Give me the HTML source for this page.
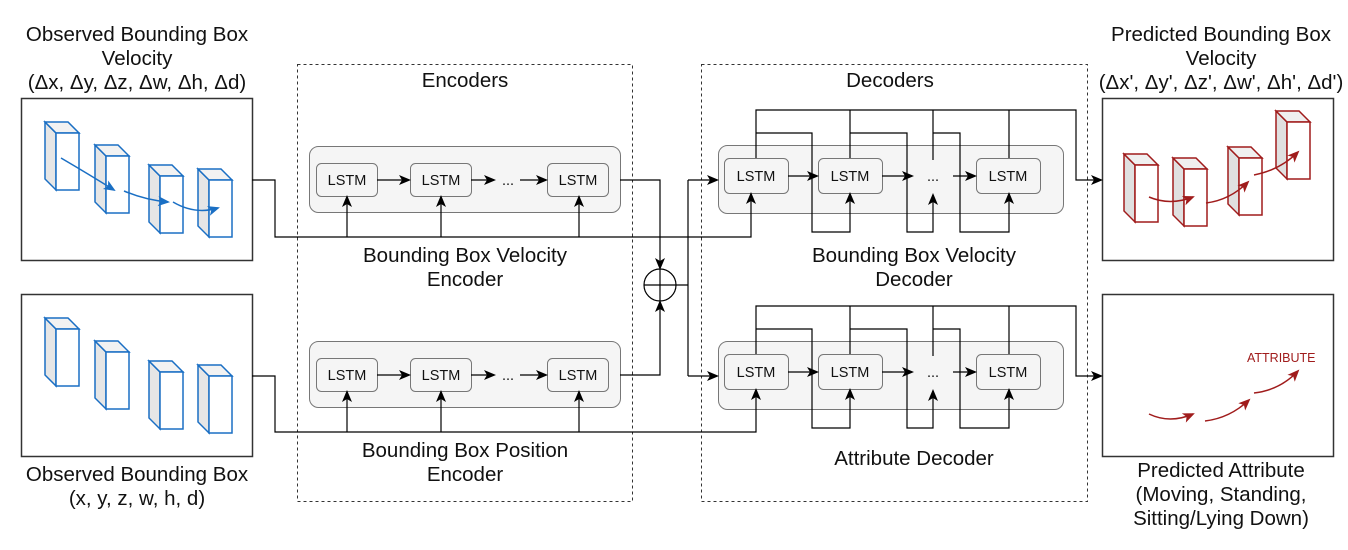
<!DOCTYPE html>
<html><head><meta charset="utf-8"><style>
html,body{margin:0;padding:0;background:#fff}
svg{display:block}
text{font-family:"Liberation Sans",Arial,sans-serif;fill:#111}
</style></head><body>
<svg width="1348" height="550" viewBox="0 0 1348 550" xmlns="http://www.w3.org/2000/svg">
<defs>
<g id="cb">
 <polygon points="-11,-11 0,0 0,57 -11,46" fill="#e6e6e6" stroke="#1a6fc4" stroke-width="1.5"/>
 <polygon points="-11,-11 12,-11 23,0 0,0" fill="#f2f2f2" stroke="#1a6fc4" stroke-width="1.5"/>
 <rect x="0" y="0" width="23" height="57" fill="#fff" stroke="#1a6fc4" stroke-width="1.5"/>
</g>
<g id="cr">
 <polygon points="-11,-11 0,0 0,57 -11,46" fill="#e0e0e0" stroke="#a01c1c" stroke-width="1.5"/>
 <polygon points="-11,-11 12,-11 23,0 0,0" fill="#f0f0f0" stroke="#a01c1c" stroke-width="1.5"/>
 <rect x="0" y="0" width="23" height="57" fill="#fff" stroke="#a01c1c" stroke-width="1.5"/>
</g>
<marker id="ab" markerWidth="12" markerHeight="12" refX="10" refY="6" orient="auto" markerUnits="userSpaceOnUse"><path d="M0,1 L12,6 L0,11 L3,6z" fill="#000"/></marker>
<marker id="bl" markerWidth="12" markerHeight="12" refX="10" refY="6" orient="auto" markerUnits="userSpaceOnUse"><path d="M0,1 L12,6 L0,11 L3,6z" fill="#1a6fc4"/></marker>
<marker id="rd" markerWidth="12" markerHeight="12" refX="10" refY="6" orient="auto" markerUnits="userSpaceOnUse"><path d="M0,1 L12,6 L0,11 L3,6z" fill="#a01c1c"/></marker>
</defs>

<rect x="297.5" y="64.5" width="335" height="437" fill="none" stroke="#333" stroke-dasharray="3,3"/>
<rect x="701.5" y="64.5" width="386" height="437" fill="none" stroke="#333" stroke-dasharray="3,3"/>

<rect x="21.5" y="98.5" width="231" height="162" fill="#fff" stroke="#333" stroke-width="1.5"/>
<rect x="21.5" y="294.5" width="231" height="162" fill="#fff" stroke="#333" stroke-width="1.5"/>
<rect x="1102.5" y="98.5" width="231" height="162" fill="#fff" stroke="#333" stroke-width="1.5"/>
<rect x="1102.5" y="294.5" width="231" height="162" fill="#fff" stroke="#333" stroke-width="1.5"/>

<use href="#cb" x="56" y="133"/><use href="#cb" x="106" y="156"/><use href="#cb" x="160" y="176"/><use href="#cb" x="209" y="180"/>
<path d="M61,158 Q90,175 114,190" fill="none" stroke="#1a6fc4" stroke-width="1.5" marker-end="url(#bl)"/>
<path d="M124,191 Q145,200 168,202" fill="none" stroke="#1a6fc4" stroke-width="1.5" marker-end="url(#bl)"/>
<path d="M173,202 Q195,215 218,208" fill="none" stroke="#1a6fc4" stroke-width="1.5" marker-end="url(#bl)"/>
<use href="#cb" x="56" y="329"/><use href="#cb" x="106" y="352"/><use href="#cb" x="160" y="372"/><use href="#cb" x="209" y="376"/>

<use href="#cr" x="1135" y="165"/><use href="#cr" x="1184" y="169"/><use href="#cr" x="1239" y="158"/><use href="#cr" x="1287" y="122"/>
<path d="M1149,197 Q1170,206 1193,197" fill="none" stroke="#a01c1c" stroke-width="1.5" marker-end="url(#rd)"/>
<path d="M1206,203 Q1230,200 1248,182" fill="none" stroke="#a01c1c" stroke-width="1.5" marker-end="url(#rd)"/>
<path d="M1254,175 Q1280,170 1298,152" fill="none" stroke="#a01c1c" stroke-width="1.5" marker-end="url(#rd)"/>
<text x="1247" y="362" font-size="12.5" style="fill:#a01c1c">ATTRIBUTE</text>
<path d="M1149,414 Q1170,424 1193,414" fill="none" stroke="#a01c1c" stroke-width="1.5" marker-end="url(#rd)"/>
<path d="M1205,421 Q1230,418 1249,400" fill="none" stroke="#a01c1c" stroke-width="1.5" marker-end="url(#rd)"/>
<path d="M1254,393 Q1280,390 1298,371" fill="none" stroke="#a01c1c" stroke-width="1.5" marker-end="url(#rd)"/>

<rect x="309.5" y="146.5" width="311" height="66" rx="9" fill="#f5f5f5" stroke="#777"/>
<rect x="309.5" y="341.5" width="311" height="66" rx="9" fill="#f5f5f5" stroke="#777"/>
<g font-size="14.5" text-anchor="middle">
<rect x="316.5" y="163.5" width="61" height="33" rx="5" fill="#f5f5f5" stroke="#777"/><text x="347" y="185">LSTM</text>
<rect x="410.5" y="163.5" width="61" height="33" rx="5" fill="#f5f5f5" stroke="#777"/><text x="441" y="185">LSTM</text>
<rect x="547.5" y="163.5" width="61" height="33" rx="5" fill="#f5f5f5" stroke="#777"/><text x="578" y="185">LSTM</text>
<text x="508" y="185">...</text>
<rect x="316.5" y="358.5" width="61" height="33" rx="5" fill="#f5f5f5" stroke="#777"/><text x="347" y="380">LSTM</text>
<rect x="410.5" y="358.5" width="61" height="33" rx="5" fill="#f5f5f5" stroke="#777"/><text x="441" y="380">LSTM</text>
<rect x="547.5" y="358.5" width="61" height="33" rx="5" fill="#f5f5f5" stroke="#777"/><text x="578" y="380">LSTM</text>
<text x="508" y="380">...</text>
</g>
<g stroke="#000" stroke-width="1.2" fill="none">
<path d="M377,180 H409" marker-end="url(#ab)"/><path d="M471,180 H494" marker-end="url(#ab)"/><path d="M520,180 H546" marker-end="url(#ab)"/>
<path d="M377,375 H409" marker-end="url(#ab)"/><path d="M471,375 H494" marker-end="url(#ab)"/><path d="M520,375 H546" marker-end="url(#ab)"/>
</g>

<rect x="718.5" y="145.5" width="345" height="68" rx="9" fill="#f5f5f5" stroke="#777"/>
<rect x="718.5" y="341.5" width="345" height="68" rx="9" fill="#f5f5f5" stroke="#777"/>
<g font-size="14.5" text-anchor="middle">
<rect x="724.5" y="158.5" width="64" height="35" rx="5" fill="#f5f5f5" stroke="#777"/><text x="756" y="181">LSTM</text>
<rect x="818.5" y="158.5" width="64" height="35" rx="5" fill="#f5f5f5" stroke="#777"/><text x="850" y="181">LSTM</text>
<rect x="976.5" y="158.5" width="64" height="35" rx="5" fill="#f5f5f5" stroke="#777"/><text x="1008" y="181">LSTM</text>
<text x="933" y="181">...</text>
<rect x="724.5" y="354.5" width="64" height="35" rx="5" fill="#f5f5f5" stroke="#777"/><text x="756" y="377">LSTM</text>
<rect x="818.5" y="354.5" width="64" height="35" rx="5" fill="#f5f5f5" stroke="#777"/><text x="850" y="377">LSTM</text>
<rect x="976.5" y="354.5" width="64" height="35" rx="5" fill="#f5f5f5" stroke="#777"/><text x="1008" y="377">LSTM</text>
<text x="933" y="377">...</text>
</g>

<g stroke="#000" stroke-width="1.2" fill="none">
<path d="M788,176 H817" marker-end="url(#ab)"/><path d="M882,176 H912" marker-end="url(#ab)"/><path d="M953,176 H975" marker-end="url(#ab)"/>
<path d="M756,158 V110 H1076 V180 H1101" marker-end="url(#ab)"/>
<path d="M850,158 V110"/><path d="M933,160 V110"/><path d="M1009,158 V110"/>
<path d="M756,133 H812 V232 H850 V194" marker-end="url(#ab)"/>
<path d="M850,133 H907 V232 H933 V195" marker-end="url(#ab)"/>
<path d="M933,133 H960 V232 H1009 V194" marker-end="url(#ab)"/>
<path d="M788,372 H817" marker-end="url(#ab)"/><path d="M882,372 H912" marker-end="url(#ab)"/><path d="M953,372 H975" marker-end="url(#ab)"/>
<path d="M756,354 V306 H1076 V376 H1101" marker-end="url(#ab)"/>
<path d="M850,354 V306"/><path d="M933,356 V306"/><path d="M1009,354 V306"/>
<path d="M756,329 H812 V428 H850 V390" marker-end="url(#ab)"/>
<path d="M850,329 H907 V428 H933 V391" marker-end="url(#ab)"/>
<path d="M933,329 H960 V428 H1009 V390" marker-end="url(#ab)"/>

<path d="M252,180 H275 V237 H751 V194" marker-end="url(#ab)"/>
<path d="M347,237 V197" marker-end="url(#ab)"/><path d="M441,237 V197" marker-end="url(#ab)"/><path d="M579,237 V197" marker-end="url(#ab)"/>
<path d="M252,376 H275 V432 H756 V390" marker-end="url(#ab)"/>
<path d="M347,432 V392" marker-end="url(#ab)"/><path d="M441,432 V392" marker-end="url(#ab)"/><path d="M579,432 V392" marker-end="url(#ab)"/>

<path d="M620,180 H660 V268" marker-end="url(#ab)"/>
<path d="M620,375 H660 V302" marker-end="url(#ab)"/>
<circle cx="660" cy="285" r="16" fill="#fff"/>
<path d="M644,285 H676 M660,269 V301"/>
<path d="M676,285 H688 M688,180 V376"/>
<path d="M688,180 H717" marker-end="url(#ab)"/>
<path d="M688,376 H717" marker-end="url(#ab)"/>
</g>

<g font-size="20.5" text-anchor="middle">
<text x="137" y="41">Observed Bounding Box</text>
<text x="137" y="65">Velocity</text>
<text x="137" y="89">(Δx, Δy, Δz, Δw, Δh, Δd)</text>
<text x="137" y="481">Observed Bounding Box</text>
<text x="137" y="505">(x, y, z, w, h, d)</text>
<text x="465" y="87">Encoders</text>
<text x="465" y="262">Bounding Box Velocity</text>
<text x="465" y="286">Encoder</text>
<text x="465" y="457">Bounding Box Position</text>
<text x="465" y="481">Encoder</text>
<text x="890" y="87">Decoders</text>
<text x="914" y="262">Bounding Box Velocity</text>
<text x="914" y="286">Decoder</text>
<text x="914" y="465">Attribute Decoder</text>
<text x="1221" y="41">Predicted Bounding Box</text>
<text x="1221" y="65">Velocity</text>
<text x="1221" y="89">(Δx', Δy', Δz', Δw', Δh', Δd')</text>
<text x="1221" y="477">Predicted Attribute</text>
<text x="1221" y="501">(Moving, Standing,</text>
<text x="1221" y="525">Sitting/Lying Down)</text>
</g>
</svg>
</body></html>
